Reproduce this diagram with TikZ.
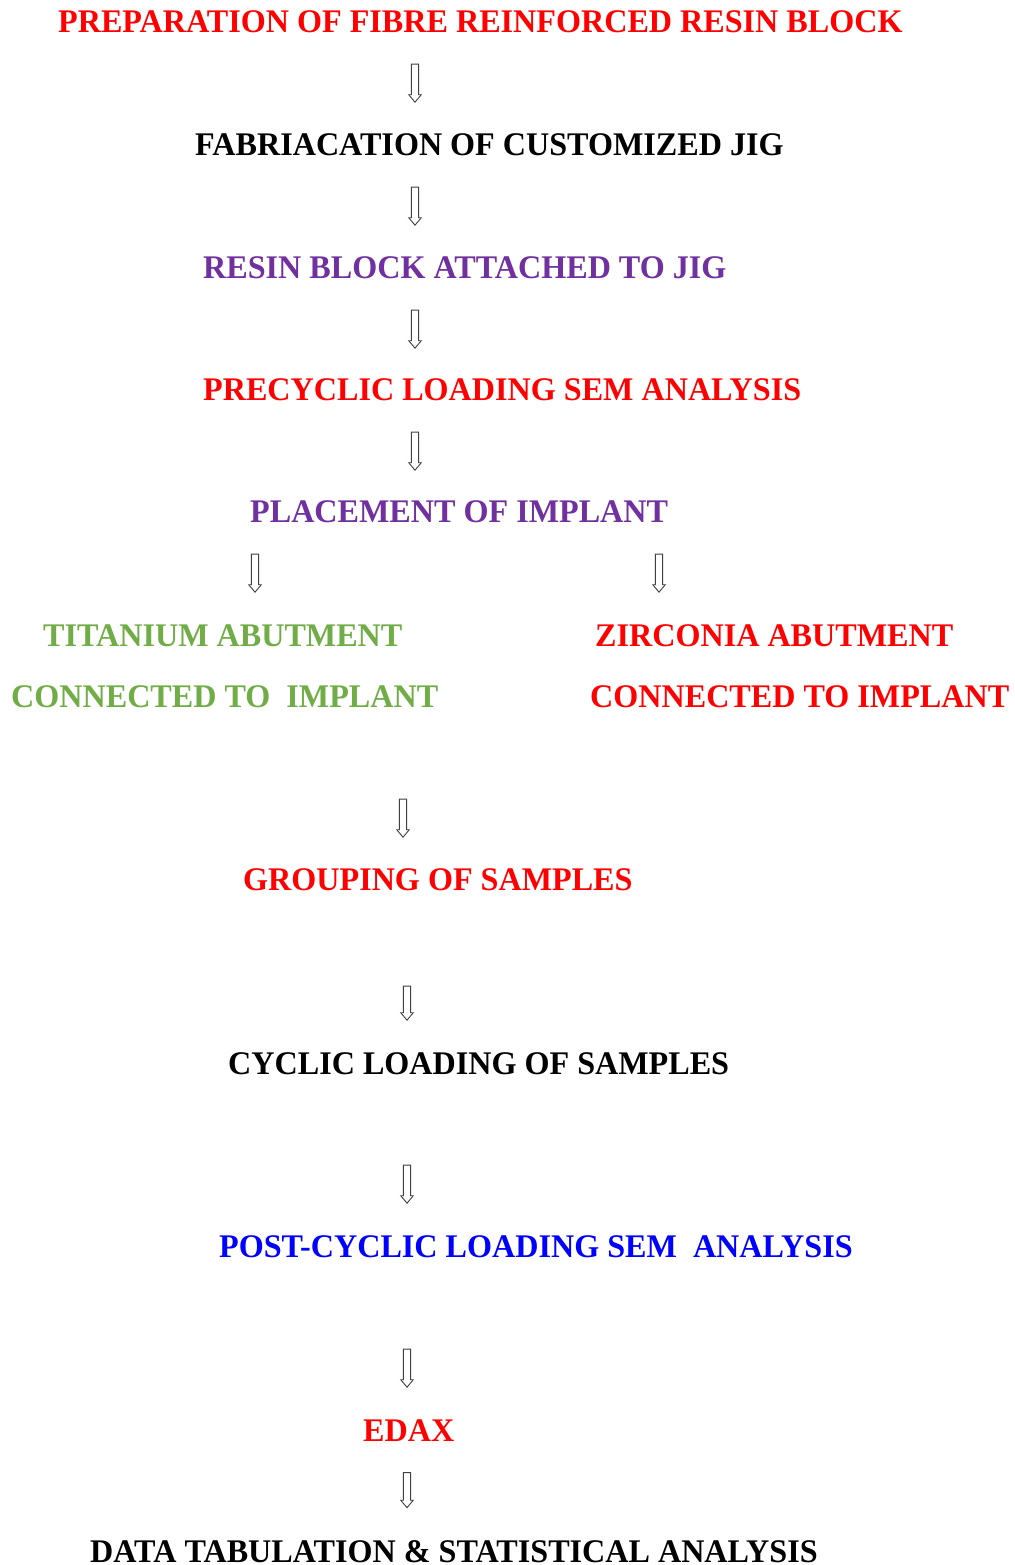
\documentclass[tikz,border=0pt]{standalone}
\usepackage{fontspec}
\setmainfont{Liberation Serif}[FakeStretch=0.974]
\usepackage{xcolor}
\usetikzlibrary{shapes.arrows, positioning}

\begin{document}
\begin{tikzpicture}[x=1pt, y={(0,-1pt)},
    step text/.style={anchor=base west, inner sep=0pt, font=\fontsize{33}{38}\selectfont\bfseries},
    down arrow/.style={shape=single arrow, draw=black!75, fill=white, line width=0.9pt,
        rotate=-90, minimum height=38pt, inner sep=3.2pt, single arrow head extend=2.6pt,
        single arrow tip angle=80}]

    % Colours of the steps
    \definecolor{cred}{HTML}{FF0000}
    \definecolor{cpurple}{HTML}{7030A0}
    \definecolor{cgreen}{HTML}{70AD47}
    \definecolor{cblue}{HTML}{0000FF}

    \useasboundingbox[fill=white] (0,0) rectangle (1014,1565);

    % Steps
    \node[step text, text=cred] (prep) at (58,33) {PREPARATION OF FIBRE REINFORCED RESIN BLOCK};
    \node[step text, text=black] (jig) at (195,156) {FABRIACATION OF CUSTOMIZED JIG};
    \node[step text, text=cpurple] (attach) at (203,278) {RESIN BLOCK ATTACHED TO JIG};
    \node[step text, text=cred] (presem) at (203,400) {PRECYCLIC LOADING SEM ANALYSIS};
    \node[step text, text=cpurple] (place) at (250,522) {PLACEMENT OF IMPLANT};

    % Two branches
    \node[step text, text=cgreen] (ti) at (43,646) {TITANIUM ABUTMENT};
    \node[step text, text=cgreen] (ticon) at (11,707) {CONNECTED TO\ \ IMPLANT};
    \node[step text, text=cred] (zr) at (595,646) {ZIRCONIA ABUTMENT};
    \node[step text, text=cred] (zrcon) at (590,707) {CONNECTED TO IMPLANT};

    \node[step text, text=cred] (group) at (243,890) {GROUPING OF SAMPLES};
    \node[step text, text=black] (cyclic) at (228,1074) {CYCLIC LOADING OF SAMPLES};
    \node[step text, text=cblue] (postsem) at (219,1257) {POST-CYCLIC LOADING SEM\ \ ANALYSIS};
    \node[step text, text=cred] (edax) at (363,1441) {EDAX};
    \node[step text, text=black] (data) at (90,1562) {DATA TABULATION \& STATISTICAL ANALYSIS};

    % Arrows
    \node[down arrow] (a1) at (415,81) {};
    \node[down arrow] (a2) at (415,204) {};
    \node[down arrow] (a3) at (415,327) {};
    \node[down arrow] (a4) at (415,449) {};
    \node[down arrow] (a5) at (255,571) {};
    \node[down arrow] (a6) at (659,571) {};
    \node[down arrow] (a7) at (403,816) {};
    \node[down arrow, minimum height=34pt] (a8) at (407,1001) {};
    \node[down arrow] (a9) at (407,1182) {};
    \node[down arrow] (a10) at (407,1366) {};
    \node[down arrow, minimum height=35pt] (a11) at (407,1488) {};
\end{tikzpicture}
\end{document}
